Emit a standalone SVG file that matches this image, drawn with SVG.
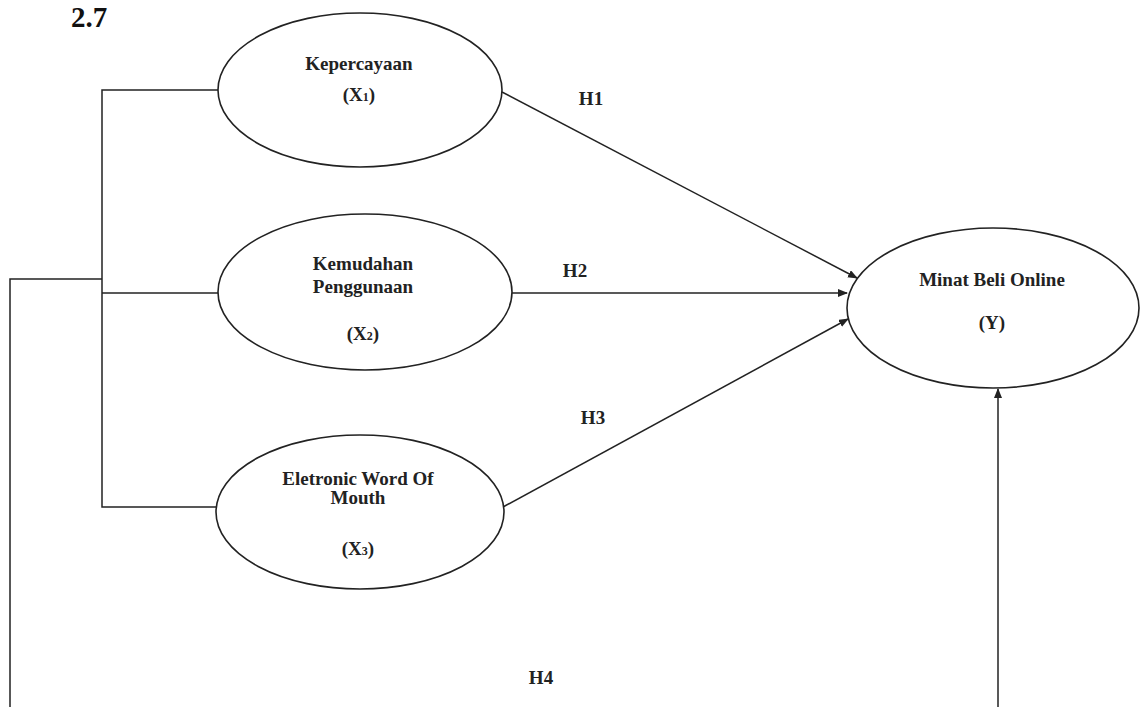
<svg xmlns="http://www.w3.org/2000/svg" width="1140" height="707" viewBox="0 0 1140 707">
<defs>
<style>
.n{fill:#fff;stroke:#222;stroke-width:1.6}
.c{fill:none;stroke:#222;stroke-width:1.5}
.t{font-family:"Liberation Serif","Times New Roman",serif;font-weight:bold;font-size:19px;fill:#222;text-anchor:middle}
.s{font-size:12px}
</style>
<marker id="ar" markerWidth="10" markerHeight="8" refX="9" refY="4" orient="auto" markerUnits="userSpaceOnUse">
<path d="M0,0 L10,4 L0,8 Z" fill="#222"/>
</marker>
</defs>
<rect width="1140" height="707" fill="#fff"/>
<text x="89" y="27" style="font-family:'Liberation Serif','Times New Roman',serif;font-weight:bold;font-size:29px;fill:#111;text-anchor:middle">2.7</text>
<g id="connectors">
<path class="c" d="M218,90 H102 V507 H216"/>
<path class="c" d="M102,293 H218"/>
<path class="c" d="M102,279 H10 V707"/>
<path class="c" d="M998,707 V389" marker-end="url(#ar)"/>
<path class="c" d="M502,92 L857,278" marker-end="url(#ar)"/>
<path class="c" d="M512,293 L847,293" marker-end="url(#ar)"/>
<path class="c" d="M503,507 L848,319" marker-end="url(#ar)"/>
<text class="t" x="591" y="105">H1</text>
<text class="t" x="575" y="277">H2</text>
<text class="t" x="593" y="424">H3</text>
<text class="t" x="541" y="684">H4</text>
</g>
<g id="x1">
<ellipse class="n" cx="360" cy="90" rx="142" ry="77"/>
<text class="t" x="359" y="70">Kepercayaan</text>
<text class="t" x="359" y="101">(X<tspan class="s">1</tspan>)</text>
</g>
<g id="x2">
<ellipse class="n" cx="365" cy="292" rx="147" ry="78"/>
<text class="t" x="363" y="270">Kemudahan</text>
<text class="t" x="363" y="293">Penggunaan</text>
<text class="t" x="363" y="340">(X<tspan class="s">2</tspan>)</text>
</g>
<g id="x3">
<ellipse class="n" cx="360" cy="512" rx="144" ry="77"/>
<text class="t" x="358" y="485">Eletronic Word Of</text>
<text class="t" x="358" y="504">Mouth</text>
<text class="t" x="358" y="555">(X<tspan class="s">3</tspan>)</text>
</g>
<g id="y">
<ellipse class="n" cx="993" cy="308" rx="146" ry="80"/>
<text class="t" x="992" y="286">Minat Beli Online</text>
<text class="t" x="992" y="329">(Y)</text>
</g>
</svg>
